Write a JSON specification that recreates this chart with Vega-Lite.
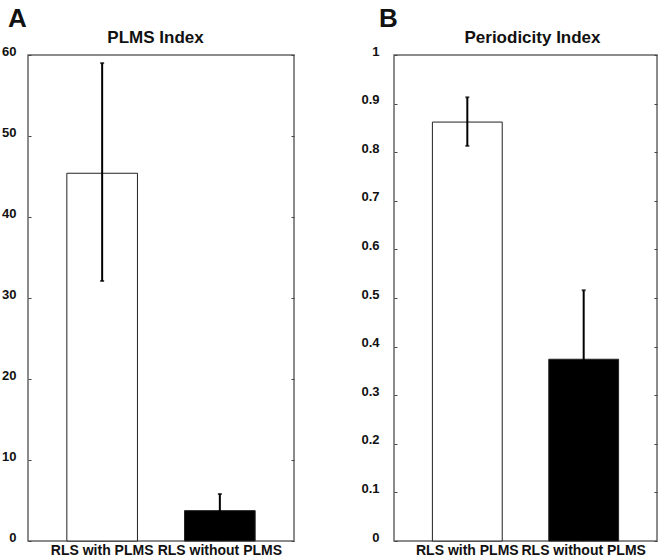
{
  "$schema": "https://vega.github.io/schema/vega-lite/v6.json",
  "padding": {"left": 0, "top": 5, "right": 0, "bottom": 0},
  "background": "white",
  "datasets": {
    "plms": [
      {"group": "RLS with PLMS", "mean": 45.4, "lo": 32.1, "hi": 59.0},
      {"group": "RLS without PLMS", "mean": 3.75, "lo": 1.7, "hi": 5.8}
    ],
    "period": [
      {"group": "RLS with PLMS", "mean": 0.862, "lo": 0.813, "hi": 0.913},
      {"group": "RLS without PLMS", "mean": 0.374, "lo": 0.232, "hi": 0.516}
    ]
  },
  "config": {
    "font": "Liberation Sans",
    "view": {"stroke": "#666", "strokeWidth": 1.5},
    "axis": {
      "domain": false,
      "grid": false,
      "tickSize": -3,
      "tickColor": "#444",
      "tickWidth": 1,
      "labelFont": "Liberation Sans",
      "labelFontWeight": "bold",
      "labelColor": "#111",
      "titleFont": "Liberation Sans",
      "titleColor": "#111"
    },
    "title": {"font": "Liberation Sans", "fontSize": 26, "fontWeight": "bold", "color": "#111", "anchor": "start", "frame": "group", "baseline": "alphabetic", "offset": -4}
  },
  "bounds": "flush",
  "spacing": 100,
  "hconcat": [
    {
      "width": 266,
      "height": 486,
      "data": {"name": "plms"},
      "title": {"text": "A", "dx": -20},
      "resolve": {"axis": {"y": "independent", "x": "independent"}},
      "layer": [
        {
          "mark": {"type": "bar", "stroke": "#222", "strokeWidth": 1},
          "encoding": {
            "x": {
              "field": "group", "type": "nominal", "sort": null,
              "scale": {"paddingInner": 0.4, "paddingOuter": 0.33},
              "axis": {"title": null, "labelAngle": 0, "labelFontSize": 14, "labelPadding": 5}
            },
            "y": {
              "field": "mean", "type": "quantitative",
              "scale": {"domain": [0, 60], "nice": false},
              "axis": {"values": [0, 10, 20, 30, 40, 50, 60], "labelFontSize": 13, "labelPadding": 15, "labelOffset": -4, "labelFlush": false, "title": null}
            },
            "fill": {"field": "group", "type": "nominal", "sort": null, "scale": {"range": ["white", "black"]}, "legend": null}
          }
        },
        {
          "mark": {"type": "rule", "strokeWidth": 2, "color": "black"},
          "encoding": {
            "x": {
              "field": "group", "type": "nominal", "sort": null,
              "axis": {"orient": "top", "labels": false, "ticks": false, "title": "PLMS Index", "titleFontSize": 17, "titleFontWeight": "bold", "titleX": 127, "titleY": -13, "titleAlign": "center", "titleBaseline": "alphabetic"}
            },
            "y": {"field": "lo", "type": "quantitative", "axis": {"orient": "right", "labels": false, "title": null, "values": [0, 10, 20, 30, 40, 50, 60]}},
            "y2": {"field": "hi"}
          }
        },
        {
          "mark": {"type": "tick", "orient": "horizontal", "size": 4, "thickness": 2, "color": "black"},
          "encoding": {
            "x": {"field": "group", "type": "nominal", "sort": null, "axis": null},
            "y": {"field": "hi", "type": "quantitative", "axis": null}
          }
        },
        {
          "mark": {"type": "tick", "orient": "horizontal", "size": 4, "thickness": 2, "color": "black"},
          "encoding": {
            "x": {"field": "group", "type": "nominal", "sort": null, "axis": null},
            "y": {"field": "lo", "type": "quantitative", "axis": null}
          }
        }
      ]
    },
    {
      "width": 263,
      "height": 486,
      "data": {"name": "period"},
      "title": {"text": "B", "dx": -15},
      "resolve": {"axis": {"y": "independent", "x": "independent"}},
      "layer": [
        {
          "mark": {"type": "bar", "stroke": "#222", "strokeWidth": 1},
          "encoding": {
            "x": {
              "field": "group", "type": "nominal", "sort": null,
              "scale": {"paddingInner": 0.4, "paddingOuter": 0.33},
              "axis": {"title": null, "labelAngle": 0, "labelFontSize": 14, "labelPadding": 5}
            },
            "y": {
              "field": "mean", "type": "quantitative",
              "scale": {"domain": [0, 1], "nice": false},
              "axis": {"values": [0, 0.1, 0.2, 0.3, 0.4, 0.5, 0.6, 0.7, 0.8, 0.9, 1], "format": "~g", "labelFontSize": 13, "labelPadding": 18, "labelOffset": -4, "labelFlush": false, "title": null}
            },
            "fill": {"field": "group", "type": "nominal", "sort": null, "scale": {"range": ["white", "black"]}, "legend": null}
          }
        },
        {
          "mark": {"type": "rule", "strokeWidth": 2, "color": "black"},
          "encoding": {
            "x": {
              "field": "group", "type": "nominal", "sort": null,
              "axis": {"orient": "top", "labels": false, "ticks": false, "title": "Periodicity Index", "titleFontSize": 17, "titleFontWeight": "bold", "titleX": 138, "titleY": -13, "titleAlign": "center", "titleBaseline": "alphabetic"}
            },
            "y": {"field": "lo", "type": "quantitative", "axis": {"orient": "right", "labels": false, "title": null, "values": [0, 0.1, 0.2, 0.3, 0.4, 0.5, 0.6, 0.7, 0.8, 0.9, 1]}},
            "y2": {"field": "hi"}
          }
        },
        {
          "mark": {"type": "tick", "orient": "horizontal", "size": 4, "thickness": 2, "color": "black"},
          "encoding": {
            "x": {"field": "group", "type": "nominal", "sort": null, "axis": null},
            "y": {"field": "hi", "type": "quantitative", "axis": null}
          }
        },
        {
          "mark": {"type": "tick", "orient": "horizontal", "size": 4, "thickness": 2, "color": "black"},
          "encoding": {
            "x": {"field": "group", "type": "nominal", "sort": null, "axis": null},
            "y": {"field": "lo", "type": "quantitative", "axis": null}
          }
        }
      ]
    }
  ]
}
